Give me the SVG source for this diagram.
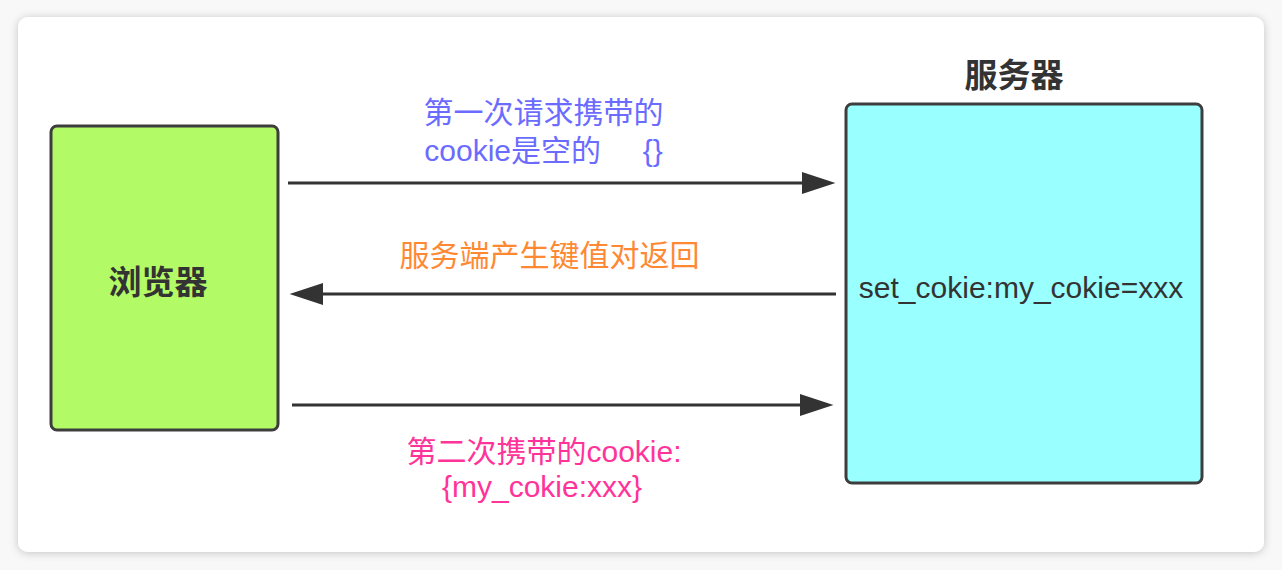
<svg xmlns="http://www.w3.org/2000/svg" width="1282" height="570" viewBox="0 0 1282 570">
  <style>
    text { font-family: "Liberation Sans", "Noto Sans CJK SC", sans-serif; }
    .title { font-size: 33px; font-weight: bold; fill: #333333; text-anchor: middle; }
    .body { font-size: 30px; fill: #333333; text-anchor: middle; }
    .lbl { font-size: 30px; text-anchor: middle; white-space: pre; }
    .node { stroke: #3d3d3d; stroke-width: 3; }
    .conn { stroke: #333333; stroke-width: 3; fill: none; marker-end: url(#head); }
  </style>
  <defs>
    <filter id="shadow" x="-5%" y="-5%" width="110%" height="110%">
      <feDropShadow dx="0" dy="1" stdDeviation="4" flood-color="#000000" flood-opacity="0.22"/>
    </filter>
    <marker id="head" markerUnits="userSpaceOnUse" markerWidth="34" markerHeight="22" viewBox="0 0 32 21" refX="2" refY="10.5" orient="auto">
      <path d="M0,0 L32,10.5 L0,21 Z" fill="#333333"/>
    </marker>
  </defs>
  <rect x="0" y="0" width="1282" height="570" fill="#f8f8f8"/>
  <rect x="18" y="17" width="1246" height="535" rx="10" ry="10" fill="#ffffff" filter="url(#shadow)"/>

  <g id="browser">
    <rect class="node" x="51" y="126" width="227" height="304" rx="6" ry="6" fill="#b2fa66"/>
    <text class="title" x="158" y="294">浏览器</text>
  </g>

  <g id="server">
    <text class="title" x="1014" y="87">服务器</text>
    <rect class="node" x="846" y="104" width="356" height="379" rx="6" ry="6" fill="#99ffff"/>
    <text class="body" x="1021" y="298">set_cokie:my_cokie=xxx</text>
  </g>

  <g id="connectors">
    <line class="conn" x1="288" y1="183" x2="804" y2="183"/>
    <line class="conn" x1="836" y1="294" x2="321" y2="294"/>
    <line class="conn" x1="292" y1="405" x2="802" y2="405"/>
  </g>

  <g id="labels">
    <text class="lbl" x="543.5" y="123" fill="#6b6bff">第一次请求携带的</text>
    <text class="lbl" x="543.5" y="161" fill="#6b6bff">cookie是空的     {}</text>
    <text class="lbl" x="549.5" y="266" fill="#ff8833">服务端产生键值对返回</text>
    <text class="lbl" x="544" y="462" fill="#ff3399">第二次携带的cookie:</text>
    <text class="lbl" x="542" y="497" fill="#ff3399">{my_cokie:xxx}</text>
  </g>
</svg>
